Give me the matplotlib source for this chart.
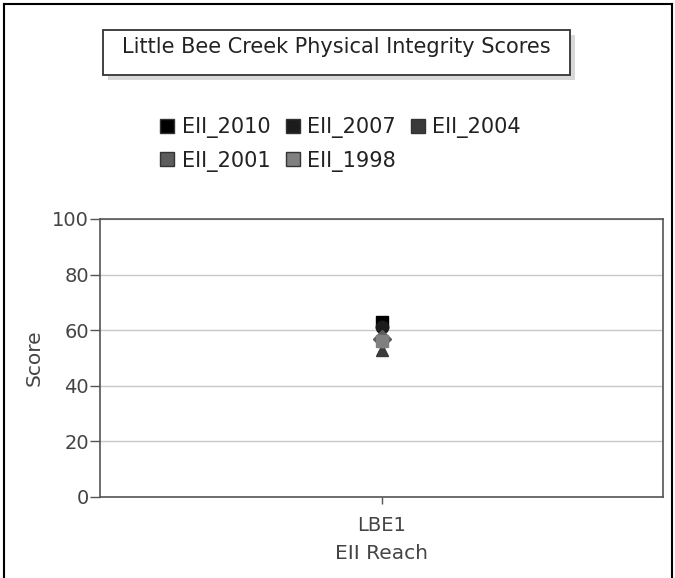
import matplotlib
matplotlib.use("Agg")
import matplotlib.pyplot as plt
from matplotlib.patches import Rectangle
from matplotlib.lines import Line2D

categories = ["LBE1"]
series_names = ["EII_2010", "EII_2007", "EII_2004", "EII_2001", "EII_1998"]
series_values = [[63], [61], [53], [57], [56]]
series_colors = ["#000000", "#1c1c1c", "#3a3a3a", "#5c5c5c", "#808080"]
series_markers = ["s", "o", "^", "D", "s"]
yticks = [0, 20, 40, 60, 80, 100]

plt.rcParams['font.family'] = ['DejaVu Sans']
fig = plt.figure(figsize=(6.75, 5.78), dpi=100)
W, H = 675, 578
ax = fig.add_axes([100 / W, (H - 497) / H, (663 - 100) / W, (497 - 219) / H])

x = list(range(len(categories)))
for name, vals, col, mk in zip(series_names, series_values, series_colors, series_markers):
    ax.plot(x, vals, linestyle="none", marker=mk, color=col, markersize=9,
            markeredgecolor=col, zorder=3)

ax.set_xlim(-0.5, len(categories) - 0.5)
ax.set_ylim(0, 100)
ax.set_yticks(yticks)
ax.set_xticks(x)
ax.set_xticklabels(categories)
ax.yaxis.grid(True, color="#c8c8c8", linewidth=1)
ax.set_axisbelow(True)
for s in ax.spines.values():
    s.set_color("#555555")
    s.set_linewidth(1.2)
ax.tick_params(axis="y", colors="#555555", labelcolor="#444444", labelsize=14, length=7, width=1, pad=1)
ax.tick_params(axis="x", colors="#555555", labelcolor="#444444", labelsize=14, length=5, width=1, pad=9)
ax.set_ylabel("Score", fontsize=14.5, color="#444444", labelpad=6)
ax.set_xlabel("EII Reach", fontsize=14.5, color="#444444", labelpad=6)

# title box with shadow
fig.patches.append(Rectangle((108 / W, 1 - 80 / H), (570 - 103) / W, 45 / H, transform=fig.transFigure,
                             facecolor="#d8d8d8", edgecolor="none", zorder=0))
fig.patches.append(Rectangle((103 / W, 1 - 75 / H), (570 - 103) / W, 45 / H, transform=fig.transFigure,
                             facecolor="white", edgecolor="#333333", linewidth=1.3, zorder=1))
fig.text(336 / W, 1 - 47 / H, "Little Bee Creek Physical Integrity Scores", ha="center", va="center",
         fontsize=15, color="#222222", zorder=2)

# legend (row-major order for 3 columns)
order = [0, 3, 1, 4, 2]
handles = [Line2D([], [], linestyle="none", marker="s", markersize=10, color=series_colors[i],
                  markeredgecolor="#333333") for i in order]
labels = [series_names[i] for i in order]
leg = fig.legend(handles, labels, loc="upper left", bbox_to_anchor=(157 / W, 1 - 117 / H),
                 ncol=3, frameon=False, fontsize=15, handletextpad=0.2, columnspacing=0.55,
                 labelspacing=0.6, handlelength=1.0, borderpad=0, borderaxespad=0)
for t in leg.get_texts():
    t.set_color("#222222")

# outer frame
fig.add_artist(Line2D([4 / W, 4 / W], [0, 1 - 4 / H], transform=fig.transFigure, color="black", linewidth=1.5))
fig.add_artist(Line2D([4 / W, 672 / W], [1 - 4 / H, 1 - 4 / H], transform=fig.transFigure, color="black", linewidth=1.5))
fig.add_artist(Line2D([672 / W, 672 / W], [0, 1 - 4 / H], transform=fig.transFigure, color="black", linewidth=1.5))

fig.savefig("out.png", dpi=100)
